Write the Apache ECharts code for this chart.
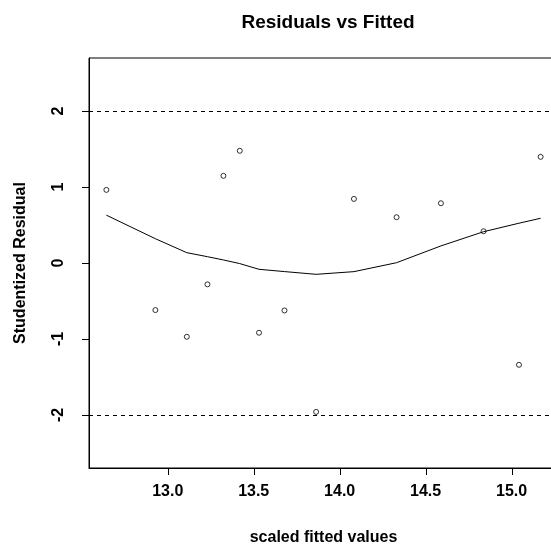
<!DOCTYPE html>
<html>
<head>
<meta charset="utf-8">
<script src="https://cdn.jsdelivr.net/npm/echarts@6/dist/echarts.min.js"></script>
<style>html,body{margin:0;padding:0;background:#fff}#c{width:551px;height:549px}</style>
</head>
<body>
<div id="c"></div>
<script>
// Observed data (studentized residuals vs scaled fitted values)
var fittedX = [12.643, 12.928, 13.111, 13.231, 13.324, 13.419, 13.531, 13.679, 13.863, 14.083, 14.331, 14.589, 14.837, 15.043, 15.169];
var residY  = [0.963, -0.620, -0.972, -0.281, 1.148, 1.478, -0.919, -0.625, -1.961, 0.844, 0.603, 0.787, 0.418, -1.341, 1.398];
// Smoothed (lowess) curve values at the same x positions
var smoothY = [0.630, 0.320, 0.136, 0.083, 0.040, -0.008, -0.083, -0.113, -0.149, -0.114, 0.004, 0.225, 0.412, 0.524, 0.589];
var xTicks = [13.0, 13.5, 14.0, 14.5, 15.0];
var yTicks = [-2, -1, 0, 1, 2];
var refLines = [2, -2];
var xRange = [12.542, 15.27];
var yRange = [-2.7, 2.7];

var pts = fittedX.map(function (x, i) { return [x, residY[i]]; });
var smooth = fittedX.map(function (x, i) { return [x, smoothY[i]]; });

var TICK_LEN = 7;
var FONT = 'Liberation Sans, Arial, sans-serif';
var chart = echarts.init(document.getElementById('c'), null, { renderer: 'canvas' });
chart.setOption({
  animation: false,
  backgroundColor: '#fff',
  title: {
    text: 'Residuals vs Fitted',
    left: 323, top: 8, textAlign: 'center',
    textStyle: { fontFamily: FONT, fontWeight: 'bold', fontSize: 19, color: '#000' }
  },
  grid: { left: 89, top: 58, right: -7, bottom: 81, outerBoundsMode: 'none',
    show: true, borderColor: '#000', borderWidth: 1, backgroundColor: 'transparent' },
  xAxis: {
    type: 'value', min: xRange[0], max: xRange[1], position: 'bottom',
    name: 'scaled fitted values', nameLocation: 'middle', nameGap: 62,
    nameTextStyle: { fontFamily: FONT, fontWeight: 'bold', fontSize: 16, color: '#000', verticalAlign: 'top' },
    axisLine: { show: true, onZero: false, lineStyle: { color: '#000', width: 1 } },
    axisTick: { show: false },
    axisLabel: { customValues: xTicks, margin: 16, formatter: function (v) { return v.toFixed(1); },
      fontFamily: FONT, fontWeight: 'bold', fontSize: 16, color: '#000' },
    splitLine: { show: false }
  },
  yAxis: {
    type: 'value', min: yRange[0], max: yRange[1], position: 'left',
    name: 'Studentized Residual', nameLocation: 'middle', nameGap: 60,
    nameTextStyle: { fontFamily: FONT, fontWeight: 'bold', fontSize: 16, color: '#000' },
    axisLine: { show: true, onZero: false, lineStyle: { color: '#000', width: 1 } },
    axisTick: { show: false },
    axisLabel: { customValues: yTicks, rotate: 90, margin: 22,
      fontFamily: FONT, fontWeight: 'bold', fontSize: 16, color: '#000' },
    splitLine: { show: false }
  },
  series: [
    {
      type: 'line', data: smooth, showSymbol: false, symbol: 'none',
      lineStyle: { color: '#000', width: 1 }, z: 3,
      markLine: {
        silent: true, symbol: 'none', label: { show: false },
        lineStyle: { color: '#000', width: 1, type: [4, 4] },
        data: refLines.map(function (v) { return { yAxis: v }; })
      }
    },
    {
      type: 'scatter', data: pts, symbol: 'circle', symbolSize: 5,
      itemStyle: { color: 'transparent', borderColor: '#000', borderWidth: 1 }, z: 4
    }
  ]
});

// Tick marks placed through the chart's own axis scales
var yBottom = chart.convertToPixel({ yAxisIndex: 0 }, yRange[0]);
var xLeft = chart.convertToPixel({ xAxisIndex: 0 }, xRange[0]);
var tickEls = [];
xTicks.forEach(function (v) {
  var px = Math.round(chart.convertToPixel({ xAxisIndex: 0 }, v)) + 0.5;
  tickEls.push({ type: 'line', silent: true, z: 100,
    shape: { x1: px, y1: yBottom, x2: px, y2: yBottom + TICK_LEN },
    style: { stroke: '#000', lineWidth: 1 } });
});
yTicks.forEach(function (v) {
  var py = Math.round(chart.convertToPixel({ yAxisIndex: 0 }, v)) + 0.5;
  tickEls.push({ type: 'line', silent: true, z: 100,
    shape: { x1: xLeft - TICK_LEN, y1: py, x2: xLeft, y2: py },
    style: { stroke: '#000', lineWidth: 1 } });
});
chart.setOption({ graphic: { elements: tickEls } });
</script>
</body>
</html>
